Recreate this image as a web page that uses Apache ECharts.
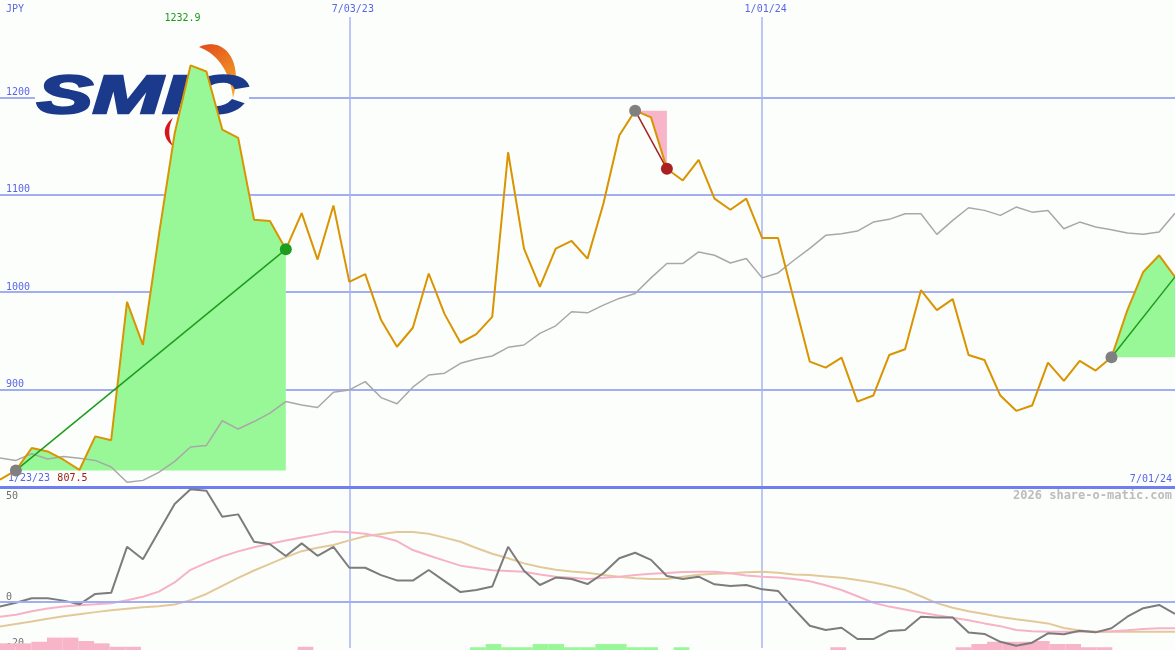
<!DOCTYPE html>
<html><head><meta charset="utf-8">
<script src="https://cdn.jsdelivr.net/npm/echarts@6/dist/echarts.min.js"></script>
<style>html,body{margin:0;padding:0;background:#fcfefc;}#c{width:1175px;height:650px;}</style>
</head><body><div id="c"></div>
<script>
// ---- data (weekly, index k = 0..74) ----
const close = [
  807.5, 817, 840, 836.5, 828, 817.5, 852, 848, 990, 946,
  1058, 1163, 1232.9, 1226.6, 1167, 1158.4, 1074.5, 1073, 1044, 1081.2,
  1033.5, 1089.1, 1010.6, 1018.5, 971.4, 944, 963.5, 1019.2, 977.5, 948.1,
  957, 974.7, 1143.7, 1044.8, 1005.5, 1044.8, 1052.6, 1034.5, 1090.8, 1160.8,
  1186.4, 1179.5, 1126.7, 1114.7, 1135.9, 1096, 1084.7, 1096, 1055.6, 1055.6,
  992, 928.7, 922.5, 932.8, 887.7, 893.9, 935.5, 941.4, 1002.1, 981.6,
  992.9, 935.5, 930.4, 893.9, 878.2, 883.6, 927.6, 908.9, 929.4, 919.5,
  933.2, 981.6, 1020.8, 1037.9, 1015.7
];
const avgLine = [
  829.8, 827.3, 834.2, 828.7, 831.4, 829.4, 827.3, 820.5, 804.8, 806.8,
  815, 826.3, 841, 842.7, 868, 859.5, 867.2, 875.8, 887.7, 884.3,
  881.6, 897.3, 899.7, 908.2, 891.8, 885.4, 902.5, 915, 916.8, 927,
  931.4, 934.5, 943.4, 945.8, 957.7, 965.5, 979.9, 978.8, 986.7, 993.6,
  998.7, 1014.7, 1029.4, 1029.4, 1041.3, 1037.9, 1030, 1034.5, 1014.7, 1019.8,
  1032.8, 1045, 1058.4, 1060.1, 1062.8, 1072, 1074.8, 1080.6, 1080.6, 1059.4,
  1073.7, 1086.7, 1084, 1078.9, 1087.4, 1082.2, 1084, 1065.2, 1072, 1066.9,
  1064.2, 1060.7, 1059.4, 1061.8, 1081
];
const osc = [
  -2, -0.3, 1.6, 1.6, 0.6, -1, 3.5, 4, 24, 18.6,
  30.6, 42.6, 49, 48.4, 37.1, 38.1, 26.2, 25.1, 20, 25.5,
  20.1, 24, 14.9, 14.9, 11.7, 9.4, 9.3, 13.9, 9.1, 4.3,
  5.2, 6.7, 24, 13.6, 7.4, 10.6, 10, 7.8, 12.5, 19,
  21.4, 18.3, 11.3, 10, 11, 7.7, 7, 7.4, 5.5, 4.8,
  -3, -10.3, -12.2, -11.2, -16.1, -16.1, -12.6, -12.2, -6.4, -6.7,
  -6.7, -13.3, -13.9, -17.3, -19, -17.7, -13.6, -14, -12.5, -13.2,
  -11.4, -6.4, -2.7, -1.3, -5.2
];
const oscFast = [
  -6.4, -5.5, -4, -2.8, -2, -1.4, -1, -0.5, 0.8, 2.3,
  4.5, 8.5, 14, 17, 19.8, 22, 23.8, 25.3, 26.7, 28,
  29.3, 30.6, 30.3, 29.7, 28.4, 26.5, 22.6, 20.2, 18, 15.8,
  14.8, 13.8, 13.5, 13.2, 12, 11, 10.5, 10, 10.5, 11,
  11.7, 12.3, 12.6, 13, 13.2, 13.1, 12.5, 11.5, 11, 10.7,
  10, 9, 7.3, 5.2, 2.5, -0.3, -2, -3.3, -4.6, -5.8,
  -6.8, -7.9, -9.3, -10.5, -12.2, -12.7, -12.9, -12.9, -12.9, -12.9,
  -12.7, -12.3, -11.7, -11.4, -11.4
];
const oscSlow = [
  -10.7, -9.6, -8.5, -7.3, -6.2, -5.3, -4.4, -3.6, -2.9, -2.3,
  -1.8, -1.1, 0.8, 3.5, 7, 10.5, 13.7, 16.6, 19.5, 22.1,
  23.6, 24.8, 26.8, 28.6, 29.6, 30.4, 30.4, 29.7, 28, 26.2,
  23.5, 21, 19, 16.8, 15.2, 14, 13.3, 12.7, 11.7, 11,
  10.3, 10, 10, 11, 11.8, 12.3, 12.5, 12.9, 13.2, 12.7,
  12, 11.7, 11.1, 10.5, 9.6, 8.5, 7.1, 5.3, 2.5, -0.5,
  -2.5, -4, -5.2, -6.5, -7.5, -8.4, -9.3, -11.3, -12.4, -12.9,
  -12.9, -12.9, -12.9, -12.9, -12.9
];
const histo = [
  -2.9, -2.9, -3.6, -5.4, -5.4, -3.9, -2.9, -1.4, -1.4, 0,
  0, 0, 0, 0, 0, 0, 0, 0, 0, -1.4,
  0, 0, 0, 0, 0, 0, 0, 0, 0, 0,
  1.2, 2.6, 1.2, 1.2, 2.6, 2.6, 1.2, 1.2, 2.6, 2.6,
  1.2, 1.2, 0, 1.2, 0, 0, 0, 0, 0, 0,
  0, 0, 0, -1.2, 0, 0, 0, 0, 0, 0,
  0, -1.2, -2.6, -3.6, -3.6, -3.6, -3.9, -2.6, -2.6, -1.2,
  -1.2, 0, 0, 0, 0
];
const weekNo = close.map((_, k) => String(k));
const priceTicks = [900, 1000, 1100, 1200];
const oscTicks = [-20, 0, 50];
const dateTicks = { 22: '7/03/23', 48: '1/01/24' };
const edgeDates = ['1/23/23', '7/01/24'];
const trends = [
  { from: 1, to: 18, color: '#1e9c1e', fill: '#98f898', endDot: true },
  { from: 40, to: 42, color: '#a82020', fill: '#f8b4c8', endDot: true },
  { from: 70, to: 74, color: '#1e9c1e', fill: '#98f898', endDot: false }
];

// ---- styles ----
const BG = '#fcfefc';
const MONO = '"DejaVu Sans Mono", monospace';
const BLUE = '#5a66e6';
const GRID_H = '#a2adf2';
const GRID_V = '#aab4f0';
const K = close.length;
const isDateTick = (k) => dateTicks[k] !== undefined;

// logo crescent helper (decorative shape outline from two cubic curves)
function bez(p0, p1, p2, p3, n) {
  const pts = [];
  for (let j = 0; j <= n; j++) {
    const t = j / n, u = 1 - t;
    pts.push([
      u*u*u*p0[0] + 3*u*u*t*p1[0] + 3*u*t*t*p2[0] + t*t*t*p3[0],
      u*u*u*p0[1] + 3*u*u*t*p1[1] + 3*u*t*t*p2[1] + t*t*t*p3[1]
    ]);
  }
  return pts;
}
const orangeCrescent = bez([199,47],[222,36],[244,58],[233,98],20).concat(bez([233,98],[230,72],[218,54],[199,47],20));
const redCrescent = bez([173,118],[162,126],[162,138],[173,146],12).concat(bez([173,146],[168,137],[168,127],[173,118],12));

const chart = echarts.init(document.getElementById('c'), null, { renderer: 'canvas' });

const series = [];
series.push({
  type: 'line', xAxisIndex: 0, yAxisIndex: 0, data: avgLine, symbol: 'none',
  lineStyle: { color: '#a8a8a8', width: 1.5 }, silent: true, z: 2
});
trends.forEach((t, n) => {
  series.push({
    type: 'line', xAxisIndex: 0, yAxisIndex: 0, stack: 'tr' + n, stackStrategy: 'all',
    data: close.map((v, k) => (k >= t.from && k <= t.to) ? close[t.from] : '-'),
    symbol: 'none', lineStyle: { opacity: 0 }, silent: true, z: 2
  });
  series.push({
    type: 'line', xAxisIndex: 0, yAxisIndex: 0, stack: 'tr' + n, stackStrategy: 'all',
    data: close.map((v, k) => (k >= t.from && k <= t.to) ? +(v - close[t.from]).toFixed(2) : '-'),
    symbol: 'none', lineStyle: { opacity: 0 }, areaStyle: { color: t.fill, opacity: 1 }, silent: true, z: 2
  });
});
series.push({
  type: 'line', xAxisIndex: 0, yAxisIndex: 0, data: close, symbol: 'none',
  lineStyle: { color: '#d99400', width: 2 }, silent: true, z: 3
});
trends.forEach((t) => {
  series.push({
    type: 'line', xAxisIndex: 0, yAxisIndex: 0, connectNulls: true, showAllSymbol: true,
    symbol: 'circle', symbolSize: 12, silent: true, z: 4,
    lineStyle: { color: t.color, width: 1.5 },
    data: close.map((v, k) => {
      if (k === t.from) return { value: v, itemStyle: { color: '#808080' } };
      if (k === t.to) return { value: v, symbol: t.endDot ? 'circle' : 'none', itemStyle: { color: t.color } };
      return '-';
    })
  });
});
// lower panel
series.push({
  type: 'bar', xAxisIndex: 3, yAxisIndex: 2, barWidth: '100%', silent: true, z: 1,
  data: histo.map(v => ({ value: Math.abs(v), itemStyle: { color: v < 0 ? '#f8b4c8' : '#98f898' } }))
});
series.push({
  type: 'line', xAxisIndex: 2, yAxisIndex: 1, data: [], silent: true, z: 1,
  markLine: { silent: true, symbol: 'none', label: { show: false },
    lineStyle: { color: GRID_H, width: 2, type: 'solid' }, data: [{ yAxis: 0 }] }
});
series.push({
  type: 'line', xAxisIndex: 2, yAxisIndex: 1, data: oscSlow, symbol: 'none',
  lineStyle: { color: '#e3c99a', width: 2 }, silent: true, z: 2
});
series.push({
  type: 'line', xAxisIndex: 2, yAxisIndex: 1, data: oscFast, symbol: 'none',
  lineStyle: { color: '#f7b2c7', width: 2 }, silent: true, z: 2
});
series.push({
  type: 'line', xAxisIndex: 2, yAxisIndex: 1, data: osc, symbol: 'none',
  lineStyle: { color: '#7c7c7c', width: 2 }, silent: true, z: 3
});

const minVal = Math.min(...close);

const baseGraphic = [
  { type: 'rect', z: 1, silent: true, shape: { x: 35, y: 38, width: 214, height: 108 }, style: { fill: BG } },
  { type: 'polygon', z: 1, silent: true, shape: { points: orangeCrescent },
    style: { fill: { type: 'linear', x: 0, y: 0, x2: 1, y2: 1, colorStops: [{ offset: 0, color: '#e24a1c' }, { offset: 1, color: '#f6b02a' }] } } },
  { type: 'polygon', z: 1, silent: true, shape: { points: redCrescent }, style: { fill: '#d8141c' } },
  { type: 'text', z: 1, silent: true, x: 37, y: 71, scaleX: 1.55,
    style: { text: 'SMIC', font: 'italic bold 54px "Liberation Sans", sans-serif', fill: '#1b3a8c',
      stroke: '#1b3a8c', lineWidth: 2.5, textAlign: 'left', textVerticalAlign: 'top' } },
  { type: 'text', z: 10, silent: true, x: 6, y: 9,
    style: { text: 'JPY', font: '10px ' + MONO, fill: BLUE, textAlign: 'left', textVerticalAlign: 'middle' } },
  { type: 'text', z: 10, silent: true, x: 1172, y: 496,
    style: { text: '2026 share-o-matic.com', font: 'bold 12px ' + MONO, fill: '#bcbcbc', textAlign: 'right', textVerticalAlign: 'middle' } }
];

const option = {
  animation: false,
  backgroundColor: BG,
  textStyle: { fontFamily: MONO },
  grid: [
    { left: 0, width: 1175, top: 0, height: 487 },
    { left: 0, width: 1175, top: 487, height: 161 },
    { left: 0, width: 1175 * K / (K - 1), top: 487, height: 163 }
  ],
  xAxis: [
    { gridIndex: 0, type: 'category', data: weekNo, boundaryGap: false, position: 'top',
      axisLine: { show: false, onZero: false }, axisTick: { show: false },
      axisLabel: { inside: true, margin: 0, interval: (k) => isDateTick(k),
        formatter: (v, k) => dateTicks[k] || '', color: BLUE, fontSize: 10, fontFamily: MONO,
        backgroundColor: BG, padding: [4, 0, 3, 7] },
      splitLine: { show: true, interval: (k) => isDateTick(k), lineStyle: { color: GRID_V, width: 1.5 } } },
    { gridIndex: 0, type: 'category', data: weekNo, boundaryGap: false, position: 'bottom',
      axisLine: { show: false, onZero: false }, axisTick: { show: false }, splitLine: { show: false },
      axisLabel: { inside: true, margin: 3, interval: (k) => k === 0 || k === K - 1,
        alignMinLabel: 'left', alignMaxLabel: 'right',
        formatter: (v, k) => k === 0 ? '{d|' + edgeDates[0] + '} {r|' + minVal + '}' : (k === K - 1 ? '{d|' + edgeDates[1] + '}' : ''),
        rich: { d: { color: BLUE, fontSize: 10, fontFamily: MONO }, r: { color: '#a01818', fontSize: 10, fontFamily: MONO } },
        padding: [0, 3, 0, 8] } },
    { gridIndex: 1, type: 'category', data: weekNo, boundaryGap: false, position: 'top',
      axisLine: { show: true, onZero: false, lineStyle: { color: '#6f7ef0', width: 3 } }, axisTick: { show: false },
      axisLabel: { show: false },
      splitLine: { show: true, interval: (k) => isDateTick(k), lineStyle: { color: GRID_V, width: 1.5 } } },
    { gridIndex: 2, type: 'category', data: weekNo, boundaryGap: true, show: false }
  ],
  yAxis: [
    { gridIndex: 0, type: 'value', min: 800, max: 1300, interval: 100,
      axisLine: { show: false }, axisTick: { show: false },
      axisLabel: { inside: true, margin: 6, verticalAlign: 'bottom', color: BLUE, fontSize: 10, fontFamily: MONO,
        formatter: (v) => priceTicks.includes(v) ? String(v) : '' },
      splitLine: { show: true, showMinLine: false, showMaxLine: false, lineStyle: { color: GRID_H, width: 2 } } },
    { gridIndex: 1, type: 'value', min: -20, max: 50, interval: 10,
      axisLine: { show: false }, axisTick: { show: false }, splitLine: { show: false },
      axisLabel: { inside: true, margin: 6, verticalAlign: 'bottom', verticalAlignMaxLabel: 'top',
        padding: [4, 0, 0, 0],
        color: '#707070', fontSize: 10, fontFamily: MONO,
        formatter: (v) => oscTicks.includes(v) ? String(v) : '' } },
    { gridIndex: 2, type: 'value', min: 0, max: 71, show: false }
  ],
  series: series,
  graphic: baseGraphic
};
chart.setOption(option);

// max label placed at the max point's x position
const maxK = close.indexOf(Math.max(...close));
const px = chart.convertToPixel({ xAxisIndex: 0 }, maxK);
chart.setOption({ graphic: baseGraphic.concat([
  { type: 'text', z: 10, silent: true, x: px - 8, y: 18,
    style: { text: String(close[maxK]), font: '10px ' + MONO, fill: '#1a9a1a', textAlign: 'center', textVerticalAlign: 'middle' } }
]) });
</script></body></html>
